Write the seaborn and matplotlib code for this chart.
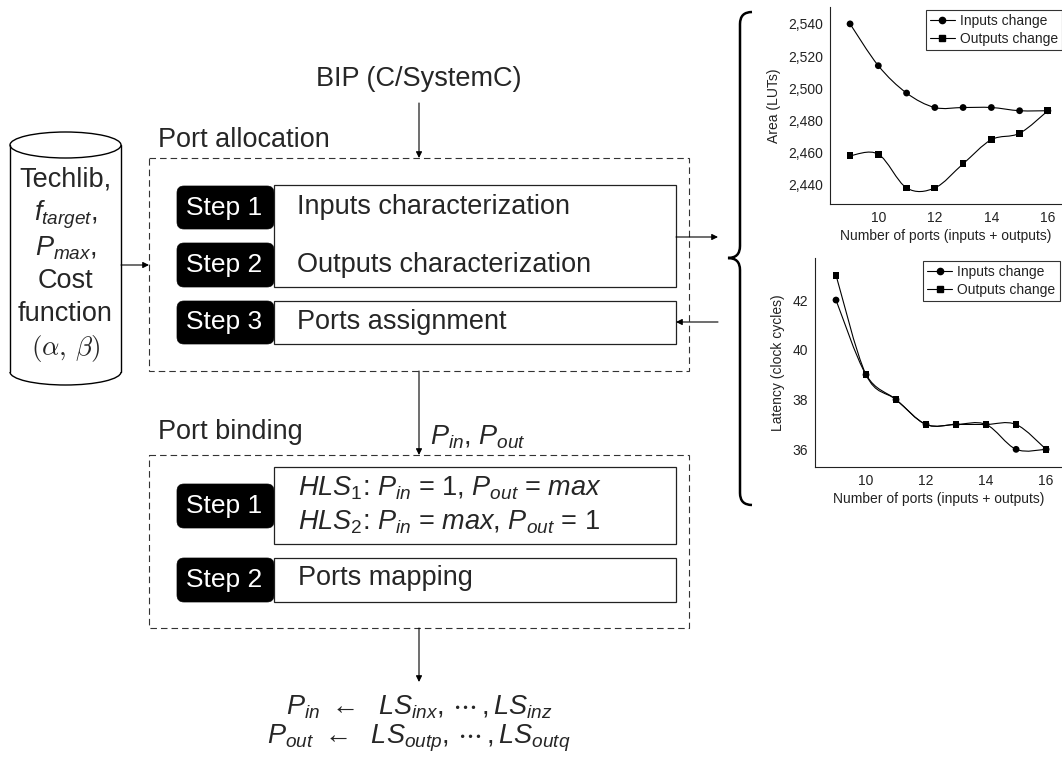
import numpy as np
import pandas as pd
import matplotlib
matplotlib.use("Agg")
import matplotlib.pyplot as plt
import seaborn as sns
from matplotlib.patches import Rectangle, FancyBboxPatch, Ellipse, Arc, PathPatch
from matplotlib.path import Path
from matplotlib.lines import Line2D
from matplotlib.ticker import FuncFormatter

# ---------------- data ----------------
ports = [9, 10, 11, 12, 13, 14, 15, 16]
area_inputs = [2540, 2514, 2497, 2488, 2488, 2488, 2486, 2486]
area_outputs = [2458, 2459, 2438, 2438, 2453, 2468, 2472, 2486]
lat_inputs = [42, 39, 38, 37, 37, 37, 36, 36]
lat_outputs = [43, 39, 38, 37, 37, 37, 37, 36]
series_names = ["Inputs change", "Outputs change"]
area_ticks = [2440, 2460, 2480, 2500, 2520, 2540]
lat_ticks = [36, 38, 40, 42]
port_ticks = [10, 12, 14, 16]
x_label = "Number of ports (inputs + outputs)"
area_label = "Area (LUTs)"
lat_label = "Latency (clock cycles)"

# ---------------- style ----------------
sns.set_style("white")
plt.rcParams["font.family"] = ["Liberation Sans", "DejaVu Sans"]
plt.rcParams["mathtext.fontset"] = "custom"
plt.rcParams["mathtext.rm"] = "Liberation Sans"
plt.rcParams["mathtext.it"] = "Liberation Sans:italic"
plt.rcParams["mathtext.sf"] = "Liberation Sans"
plt.rcParams["mathtext.bf"] = "Liberation Sans:bold"
plt.rcParams["lines.scale_dashes"] = False

W, H = 1062, 758
fig = plt.figure(figsize=(W / 100, H / 100), dpi=100)
fig.patch.set_facecolor("white")

# ---------------- diagram canvas (pixel coordinates) ----------------
ax0 = fig.add_axes([0, 0, 1, 1])
ax0.set_xlim(0, W)
ax0.set_ylim(H, 0)
ax0.axis("off")

FS = 19.5
DASH = (0, (4.7, 2.9))


def arrow(x0, y0, x1, y1):
    ax0.annotate("", xy=(x1, y1), xytext=(x0, y0),
                 arrowprops=dict(arrowstyle="-|>", lw=0.8, color="black",
                                 shrinkA=0, shrinkB=0, mutation_scale=9))


def dashed_box(x0, y0, x1, y1):
    ax0.add_patch(Rectangle((x0, y0), x1 - x0, y1 - y0, fill=False,
                            edgecolor="#333333", lw=0.8, linestyle=DASH))


def white_box(x0, y0, x1, y1):
    ax0.add_patch(Rectangle((x0, y0), x1 - x0, y1 - y0, facecolor="white",
                            edgecolor="#222222", lw=0.9, zorder=3))


def step_box(x0, y0, x1, y1, label):
    ax0.add_patch(FancyBboxPatch((x0 + 7, y0 + 7), x1 - x0 - 14, y1 - y0 - 14,
                                 boxstyle="round,pad=7", facecolor="black",
                                 edgecolor="black", lw=0.5, zorder=2))
    ax0.text((x0 + x1) / 2 - 1, (y0 + y1) / 2, label, color="white",
             fontsize=19, ha="center", va="center", zorder=4)


# cylinder
cx0, cx1 = 10, 121
ctop, cbot = 145, 372
ax0.add_patch(Rectangle((cx0, ctop), cx1 - cx0, cbot - ctop, facecolor="white", edgecolor="none"))
ax0.plot([cx0, cx0], [ctop, cbot], color="black", lw=1.0)
ax0.plot([cx1, cx1], [ctop, cbot], color="black", lw=1.0)
ax0.add_patch(Ellipse(((cx0 + cx1) / 2, ctop), cx1 - cx0, 26, fill=False, edgecolor="black", lw=1.0))
ax0.add_patch(Arc(((cx0 + cx1) / 2, cbot), cx1 - cx0, 26, theta1=0, theta2=180, edgecolor="black", lw=1.0))
cyl_lines = ["Techlib,", r"$f_{target}$,", r"$P_{max}$,", "Cost", "function"]
cyl_y = [179, 215, 248, 281, 314]
for t, y in zip(cyl_lines, cyl_y):
    ax0.text((cx0 + cx1) / 2, y, t, fontsize=FS, ha="center", va="center")
ax0.text((cx0 + cx1) / 2, 348, r"$(\alpha,\,\beta)$", fontsize=FS, ha="center",
         va="center", math_fontfamily="cm")
arrow(cx1, 265, 149, 265)

# top input
ax0.text(419, 79, "BIP (C/SystemC)", fontsize=FS, ha="center", va="center")
arrow(419, 103, 419, 158)

# port allocation
ax0.text(158, 140, "Port allocation", fontsize=FS, ha="left", va="center")
dashed_box(149, 158, 689, 371)
white_box(274, 185, 676, 287)
white_box(274, 301, 676, 344)
step_box(177, 186, 274, 229, "Step 1")
step_box(177, 243, 274, 287, "Step 2")
step_box(177, 301, 274, 344, "Step 3")
ax0.text(297, 207, "Inputs characterization", fontsize=FS, ha="left", va="center", zorder=5)
ax0.text(297, 265, "Outputs characterization", fontsize=FS, ha="left", va="center", zorder=5)
ax0.text(297, 322, "Ports assignment", fontsize=FS, ha="left", va="center", zorder=5)
arrow(676, 237, 718, 237)
arrow(718, 322, 676, 322)

# port binding
arrow(419, 371, 419, 455)
ax0.text(158, 432, "Port binding", fontsize=FS, ha="left", va="center")
ax0.text(430, 437, r"$P_{in}$, $P_{out}$", fontsize=FS, ha="left", va="center")
dashed_box(149, 455, 689, 628)
white_box(274, 467, 676, 544)
white_box(274, 558, 676, 602)
step_box(177, 484, 274, 528, "Step 1")
step_box(177, 558, 274, 602, "Step 2")
ax0.text(298, 488, r"$HLS_{\mathrm{1}}$: $P_{in}$ = 1, $P_{out}$ = $max$", fontsize=FS,
         ha="left", va="center", zorder=5)
ax0.text(298, 522, r"$HLS_{\mathrm{2}}$: $P_{in}$ = $max$, $P_{out}$ = 1", fontsize=FS,
         ha="left", va="center", zorder=5)
ax0.text(298, 578, "Ports mapping", fontsize=FS, ha="left", va="center", zorder=5)
arrow(419, 628, 419, 682)
ax0.text(419, 707, r"$P_{in}\ \leftarrow\ \ LS_{inx},\,\cdots\,,LS_{inz}$",
         fontsize=FS, ha="center", va="center")
ax0.text(419, 738, r"$P_{out}\ \leftarrow\ \ LS_{outp},\,\cdots\,,LS_{outq}$",
         fontsize=FS, ha="center", va="center")

# curly brace
bx, tipx = 740, 728
top, bot, mid = 12, 505, 258
verts = [(752, top), (bx, top), (bx, top + 12),
         (bx, mid - 12),
         (bx, mid), (tipx, mid),
         (bx, mid), (bx, mid + 12),
         (bx, bot - 12),
         (bx, bot), (752, bot)]
codes = [Path.MOVETO, Path.CURVE3, Path.CURVE3,
         Path.LINETO,
         Path.CURVE3, Path.CURVE3,
         Path.CURVE3, Path.CURVE3,
         Path.LINETO,
         Path.CURVE3, Path.CURVE3]
ax0.add_patch(PathPatch(Path(verts, codes), fill=False, edgecolor="black", lw=1.8))


# ---------------- charts ----------------
def frac_rect(left, top_px, right, bottom_px):
    return [left / W, 1 - bottom_px / H, (right - left) / W, (bottom_px - top_px) / H]


def smooth(ax, xs, ys, **kw):
    xs = np.asarray(xs, float)
    ys = np.asarray(ys, float)
    n = len(xs)
    verts = [(xs[0], ys[0])]
    codes = [Path.MOVETO]
    for i in range(n - 1):
        xm, ym = (xs[i - 1], ys[i - 1]) if i > 0 else (xs[i], ys[i])
        xp, yp = (xs[i + 2], ys[i + 2]) if i + 2 < n else (xs[i + 1], ys[i + 1])
        c1 = (xs[i] + (xs[i + 1] - xm) / 6, ys[i] + (ys[i + 1] - ym) / 6)
        c2 = (xs[i + 1] - (xp - xs[i]) / 6, ys[i + 1] - (yp - ys[i]) / 6)
        verts += [c1, c2, (xs[i + 1], ys[i + 1])]
        codes += [Path.CURVE4] * 3
    ax.add_patch(PathPatch(Path(verts, codes), fill=False, **kw))


def make_chart(rect, y_in, y_out, xlim, ylim, yticks, ylabel, fmt, legend_anchor):
    ax = fig.add_axes(rect)
    df = pd.DataFrame({"x": ports * 2, "y": list(y_in) + list(y_out),
                       "series": [series_names[0]] * len(ports) + [series_names[1]] * len(ports)})
    sns.scatterplot(data=df, x="x", y="y", style="series", markers=["o", "s"],
                    color="black", s=24, edgecolor="black", linewidth=0, ax=ax, legend=False)
    smooth(ax, ports, y_in, edgecolor="black", lw=0.8)
    smooth(ax, ports, y_out, edgecolor="black", lw=0.8)
    ax.set_xlim(*xlim)
    ax.set_ylim(*ylim)
    ax.set_xticks(port_ticks)
    ax.set_yticks(yticks)
    ax.yaxis.set_major_formatter(fmt)
    ax.set_xlabel(x_label, fontsize=10, labelpad=3, color="#222222")
    ax.set_ylabel(ylabel, fontsize=10, labelpad=5, color="#222222")
    ax.tick_params(labelsize=10, length=0, pad=5, labelcolor="#222222")
    for s in ["top", "right"]:
        ax.spines[s].set_visible(False)
    for s in ["left", "bottom"]:
        ax.spines[s].set_color("#222222")
        ax.spines[s].set_linewidth(0.8)
    ax.patch.set_alpha(0)
    handles = [Line2D([], [], color="black", lw=0.8, marker="o", markersize=4.5),
               Line2D([], [], color="black", lw=0.8, marker="s", markersize=4.5)]
    leg = ax.legend(handles, series_names, loc="upper right", bbox_to_anchor=legend_anchor,
                    fontsize=10, frameon=True, fancybox=False, borderpad=0.3,
                    labelspacing=0.25, handlelength=1.8, handletextpad=0.35,
                    borderaxespad=0.0)
    leg.get_frame().set_edgecolor("black")
    leg.get_frame().set_linewidth(0.8)
    for t in leg.get_texts():
        t.set_color("#222222")
    return ax


comma = FuncFormatter(lambda v, p: f"{v:,.0f}")
plain = FuncFormatter(lambda v, p: f"{v:.0f}")

make_chart(frac_rect(830, 7, 1062, 204), area_inputs, area_outputs,
           (8.29, 16.5), (2428, 2550.5), area_ticks, area_label, comma, (1.0, 0.985))
make_chart(frac_rect(815, 258, 1062, 467), lat_inputs, lat_outputs,
           (8.3, 16.53), (35.29, 43.69), lat_ticks, lat_label, plain, (0.99, 0.985))

fig.savefig("out.png", dpi=100, facecolor="white")
